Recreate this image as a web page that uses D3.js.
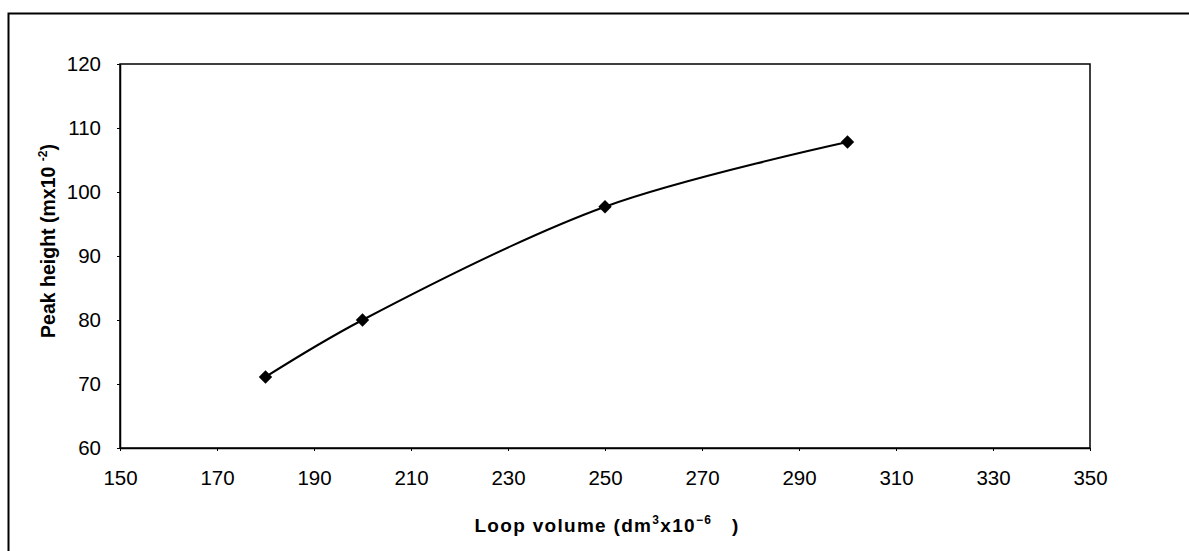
<!DOCTYPE html>
<html><head><meta charset="utf-8">
<script src="https://cdn.jsdelivr.net/npm/d3@7"></script>
<style>body{margin:0;background:#fff}svg{display:block}text{font-family:"Liberation Sans",Arial,sans-serif;fill:#000}</style>
</head><body>
<svg id="c" width="1189" height="551"></svg>
<script>
const loopVolume = [180, 200, 250, 300];
const peakHeight = [71.1, 80, 97.7, 107.8];
const xTicks = [150, 170, 190, 210, 230, 250, 270, 290, 310, 330, 350];
const yTicks = [60, 70, 80, 90, 100, 110, 120];

const svg = d3.select("#c");
const m = {l:120, t:64, r:1090, b:448};
const x = d3.scaleLinear().domain([150, 350]).range([m.l, m.r]);
const y = d3.scaleLinear().domain([60, 120]).range([m.b, m.t]);

// outer frame
svg.append("rect").attr("x", 8.5).attr("y", 13.5).attr("width", 1200).attr("height", 600)
  .attr("fill", "none").attr("stroke", "#000").attr("stroke-width", 2);

// plot frame
svg.append("rect").attr("x", m.l).attr("y", m.t).attr("width", m.r - m.l).attr("height", m.b - m.t)
  .attr("fill", "none").attr("stroke", "#000").attr("stroke-width", 1.5);

const xa = svg.append("g").attr("transform", `translate(0,${m.b})`)
  .call(d3.axisBottom(x).tickValues(xTicks).tickSize(3).tickPadding(19).tickSizeOuter(0));
const ya = svg.append("g").attr("transform", `translate(${m.l},0)`)
  .call(d3.axisLeft(y).tickValues(yTicks).tickSize(3).tickPadding(16).tickSizeOuter(0));
[xa, ya].forEach(a => {
  a.select(".domain").attr("stroke", "#000").attr("stroke-width", 1.5);
  a.selectAll(".tick line").attr("stroke", "#000");
  a.selectAll(".tick text").attr("font-size", 20.5).attr("font-family", '"Liberation Sans",Arial,sans-serif').attr("fill", "#000");
});

const pts = loopVolume.map((v, i) => [x(v), y(peakHeight[i])]);
svg.append("path").attr("d", d3.line().curve(d3.curveCatmullRom.alpha(0.5))(pts))
  .attr("fill", "none").attr("stroke", "#000").attr("stroke-width", 2);

svg.selectAll(".mk").data(pts).enter().append("path")
  .attr("d", d3.symbol(d3.symbolSquare, 90)())
  .attr("transform", d => `translate(${d[0]},${d[1]}) rotate(45)`)
  .attr("fill", "#000");

// axis titles
const xt = svg.append("text").attr("x", 607).attr("y", 532).attr("text-anchor", "middle")
  .attr("font-size", 19).attr("font-weight", "bold").attr("letter-spacing", 1.3);
xt.append("tspan").text("Loop volume (dm");
xt.append("tspan").attr("font-size", 12).attr("dy", -8).text("3");
xt.append("tspan").attr("dy", 8).text("x10");
xt.append("tspan").attr("font-size", 12).attr("dy", -8).text("−6");
xt.append("tspan").attr("dy", 8).text("\u00a0\u00a0 )");

const yt = svg.append("text").attr("transform", "translate(55,241) rotate(-90)").attr("text-anchor", "middle")
  .attr("font-size", 19.5).attr("font-weight", "bold");
yt.append("tspan").text("Peak height (mx10 ");
yt.append("tspan").attr("font-size", 12).attr("dy", -8).text("-2");
yt.append("tspan").attr("dy", 8).text(")");
</script>
</body></html>
